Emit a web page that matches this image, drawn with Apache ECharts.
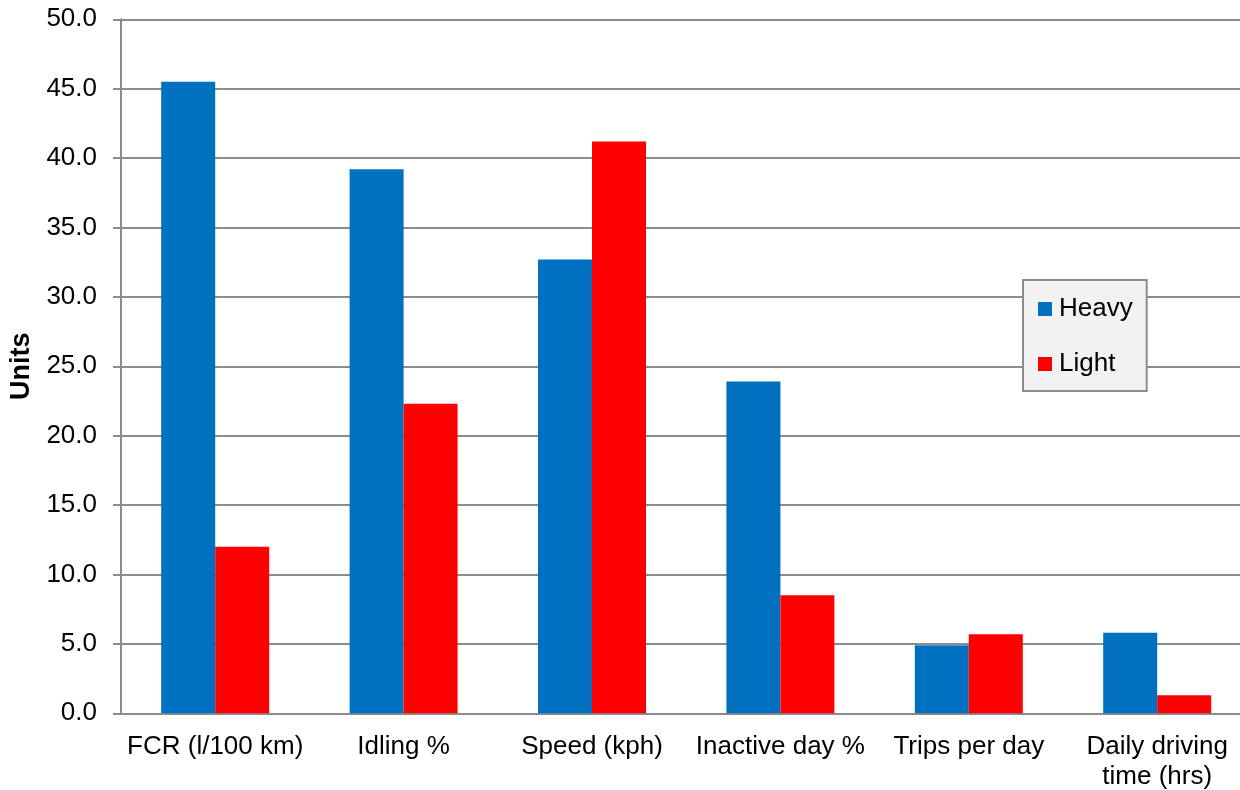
<!DOCTYPE html>
<html>
<head>
<meta charset="utf-8">
<script src="https://cdn.jsdelivr.net/npm/echarts@6/dist/echarts.min.js"></script>
<style>
  html, body { margin: 0; padding: 0; background: #fff; }
  #chart { width: 1240px; height: 790px; }
</style>
</head>
<body>
<div id="chart"></div>
<script>
// categories and values
const categories = ['FCR (l/100 km)', 'Idling %', 'Speed (kph)', 'Inactive day %', 'Trips per day', 'Daily driving\ntime (hrs)']
const heavy = [45.5, 39.2, 32.7, 23.9, 4.9, 5.8]
const light = [12.0, 22.3, 41.2, 8.5, 5.7, 1.3]

function drawChart() {
    const dom = document.getElementById('chart')
    const myChart = echarts.init(dom)
    const font = 'Liberation Sans, Arial, sans-serif'
    const option = {
        animation: false,
        textStyle: { fontFamily: font },
        // plot runs a little past the right edge of the window, as in the picture
        grid: {
            left: 121,
            top: 19.3,
            bottom: 76.7,
            right: -11.4,
            outerBoundsMode: 'none'
        },
        legend: {
            orient: 'vertical',
            left: 1023,
            top: 280,
            padding: [16, 14, 14, 15],
            itemGap: 29,
            itemWidth: 14,
            itemHeight: 14,
            icon: 'rect',
            backgroundColor: '#f2f2f2',
            borderColor: '#8c8c8c',
            borderWidth: 2,
            textStyle: {
                fontSize: 26,
                color: '#000',
                fontFamily: font,
                padding: [0, 0, 0, 2]
            },
            data: ['Heavy', 'Light']
        },
        xAxis: {
            type: 'category',
            data: categories,
            axisLine: { lineStyle: { color: '#8c8c8c', width: 2 } },
            axisTick: { length: 6, lineStyle: { color: '#8c8c8c', width: 2 } },
            axisLabel: {
                interval: 0,
                fontSize: 26,
                color: '#000',
                margin: 19,
                lineHeight: 30,
                fontFamily: font
            }
        },
        yAxis: {
            type: 'value',
            min: 0,
            max: 50,
            interval: 5,
            name: 'Units',
            nameLocation: 'middle',
            nameGap: 84,
            nameRotate: 90,
            nameTextStyle: {
                fontSize: 27,
                fontWeight: 'bold',
                color: '#000',
                fontFamily: font
            },
            axisLine: { show: true, lineStyle: { color: '#8c8c8c', width: 2 } },
            axisTick: { show: true, length: 8, lineStyle: { color: '#8c8c8c', width: 2 } },
            axisLabel: {
                fontSize: 26,
                color: '#000',
                margin: 24,
                fontFamily: font,
                formatter: function (v) { return v.toFixed(1) }
            },
            splitLine: { lineStyle: { color: '#8c8c8c', width: 2 } }
        },
        series: [
            {
                name: 'Heavy',
                type: 'bar',
                data: heavy,
                barWidth: 54,
                barGap: '0%',
                itemStyle: { color: '#0070c0' }
            },
            {
                name: 'Light',
                type: 'bar',
                data: light,
                barWidth: 54,
                barGap: '0%',
                itemStyle: { color: '#ff0000' }
            }
        ]
    }
    myChart.setOption(option)
}
drawChart()
</script>
</body>
</html>
